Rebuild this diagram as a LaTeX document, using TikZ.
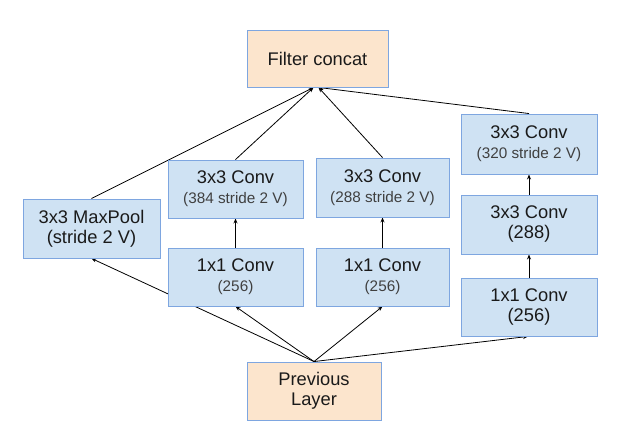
\documentclass[tikz,border=0pt]{standalone}
\usepackage{fontspec}
\setmainfont{Liberation Sans}
\usetikzlibrary{arrows.meta,backgrounds}
\definecolor{boxblue}{HTML}{CFE2F3}
\definecolor{boxpeach}{HTML}{FCE5CD}
\definecolor{edgeblue}{HTML}{7EA6E0}
\definecolor{txt}{HTML}{1A1A1A}
\begin{document}
\begin{tikzpicture}[x=1pt,y=-1pt,
  blk/.style={draw=edgeblue,line width=0.9pt,fill=boxblue,text=txt,align=center,inner sep=0pt,
    font=\fontsize{18.3}{20}\selectfont},
  pch/.style={blk,fill=boxpeach},
  conn/.style={draw=black,line width=0.8pt,-{Stealth[length=5pt,width=4pt]}}]
\useasboundingbox (0,0) rectangle (628,430);
\newcommand{\smalltxt}[1]{{\fontsize{15.3}{20}\selectfont\color{black!75}#1}}
\node[pch,minimum width=141pt,minimum height=57pt] (concat) at (317.5,58.5) {Filter concat};
\node[pch,minimum width=134pt,minimum height=58pt] (prev) at (314,391) {Previous\\Layer};
\node[blk,minimum width=137pt,minimum height=59pt] (pool) at (91.5,228.5) {3x3 MaxPool\\(stride 2 V)};
\node[blk,minimum width=135pt,minimum height=58pt] (caa) at (235.5,189) {3x3 Conv\\\smalltxt{(384 stride 2 V)}};
\node[blk,minimum width=135pt,minimum height=58pt] (cab) at (235.5,277) {1x1 Conv\\\smalltxt{(256)}};
\node[blk,minimum width=133pt,minimum height=59pt] (cba) at (382.5,187.5) {3x3 Conv\\\smalltxt{(288 stride 2 V)}};
\node[blk,minimum width=133pt,minimum height=58pt] (cbb) at (382.5,277) {1x1 Conv\\\smalltxt{(256)}};
\node[blk,minimum width=136pt,minimum height=60pt] (cca) at (529,144) {3x3 Conv\\\smalltxt{(320 stride 2 V)}};
\node[blk,minimum width=136pt,minimum height=59pt] (ccb) at (529,224.5) {3x3 Conv\\(288)};
\node[blk,minimum width=136pt,minimum height=58pt] (ccc) at (529,307) {1x1 Conv\\(256)};
\begin{pgfonlayer}{background}
\draw[conn] (prev.north) -- (pool.south);
\draw[conn] (prev.north) -- (cab.south);
\draw[conn] (prev.north) -- (cbb.south);
\draw[conn] (prev.north) -- ([xshift=-1pt]ccc.south);
\draw[conn] (cab.north) -- (caa.south);
\draw[conn] (cbb.north) -- (cba.south);
\draw[conn] (ccc.north) -- (ccb.south);
\draw[conn] (ccb.north) -- (cca.south);
\draw[conn] (pool.north) -- ([xshift=-4pt]concat.south);
\draw[conn] (caa.north) -- ([xshift=-4pt]concat.south);
\draw[conn] (cba.north) -- ([xshift=1pt]concat.south);
\draw[conn] (cca.north) -- ([xshift=1pt]concat.south);
\end{pgfonlayer}
\end{tikzpicture}
\end{document}
